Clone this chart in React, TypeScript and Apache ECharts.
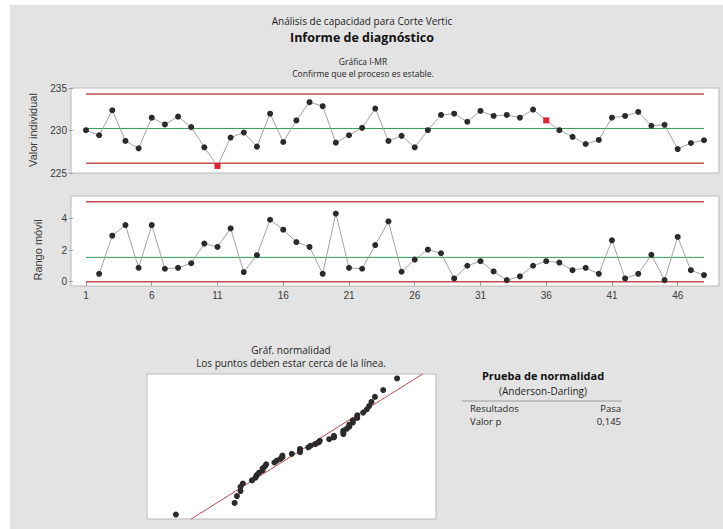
import React, { useEffect, useRef } from "react";
import * as echarts from "echarts";

// ---- data ----
const individual = [
  230.04, 229.44, 232.38, 228.77, 227.9, 231.51, 230.71, 231.63, 230.4, 228.02,
  225.83, 229.17, 229.76, 228.1, 231.98, 228.65, 231.19, 233.33, 232.86, 228.57,
  229.44, 230.32, 232.58, 228.77, 229.37, 228.02, 230.04, 231.83, 231.98, 231.03,
  232.3, 231.71, 231.83, 231.51, 232.46, 231.19, 230.04, 229.25, 228.41, 228.89,
  231.51, 231.71, 232.18, 230.56, 230.67, 227.82, 228.53, 228.85,
];
const movingRange = [
  0.5, 2.91, 3.58, 0.88, 3.58, 0.82, 0.88, 1.17, 2.41, 2.2,
  3.37, 0.61, 1.68, 3.92, 3.29, 2.51, 2.2, 0.5, 4.31, 0.88,
  0.82, 2.32, 3.81, 0.63, 1.4, 2.03, 1.8, 0.21, 1.01, 1.3,
  0.65, 0.1, 0.34, 1.01, 1.3, 1.21, 0.73, 0.88, 0.5, 2.62,
  0.21, 0.5, 1.7, 0.1, 2.83, 0.73, 0.42,
];
const observations = individual.map((_, i) => i + 1);
const flaggedPoints = [11, 36];
const xTickLabels = [1, 6, 11, 16, 21, 26, 31, 36, 41, 46];
const iTickLabels = [225, 230, 235];
const mrTickLabels = [0, 2, 4];
const iUCL = 234.29;
const iCL = 230.24;
const iLCL = 226.15;
const mrUCL = 5.05;
const mrCL = 1.54;
const mrLCL = 0;
const testRows = [
  ["Resultados", "Pasa"],
  ["Valor p", "0,145"],
];

// inverse standard normal (Acklam) for probability-plot positions
function invNorm(p: number): number {
  const a = [-39.69683028665376, 220.9460984245205, -275.9285104469687, 138.357751867269, -30.66479806614716, 2.506628277459239];
  const b = [-54.47609879822406, 161.5858368580409, -155.6989798598866, 66.80131188771972, -13.28068155288572];
  const c = [-0.007784894002430293, -0.3223964580411365, -2.400758276877924, -2.549732699811022, 4.374664141464968, 2.938163982698783];
  const d = [0.007784695709041462, 0.3224671290700398, 2.445134137142996, 3.754408661907416];
  const pl = 0.02425;
  if (p < pl) {
    const q = Math.sqrt(-2 * Math.log(p));
    return (((((c[0] * q + c[1]) * q + c[2]) * q + c[3]) * q + c[4]) * q + c[5]) / ((((d[0] * q + d[1]) * q + d[2]) * q + d[3]) * q + 1);
  }
  if (p <= 1 - pl) {
    const q = p - 0.5;
    const r = q * q;
    return ((((((a[0] * r + a[1]) * r + a[2]) * r + a[3]) * r + a[4]) * r + a[5]) * q) / (((((b[0] * r + b[1]) * r + b[2]) * r + b[3]) * r + b[4]) * r + 1);
  }
  const q = Math.sqrt(-2 * Math.log(1 - p));
  return -(((((c[0] * q + c[1]) * q + c[2]) * q + c[3]) * q + c[4]) * q + c[5]) / ((((d[0] * q + d[1]) * q + d[2]) * q + d[3]) * q + 1);
}

const FONT = "'Open Sans', 'Noto Sans', sans-serif";
const TICKFONT = "'Liberation Sans', Arial, sans-serif";

export default function App() {
  const ref = useRef<HTMLDivElement>(null);
  useEffect(() => {
    if (!ref.current) return;
    const chart = echarts.init(ref.current, undefined, { renderer: "svg" });

    const n = individual.length;
    const sorted = [...individual].sort((x, y) => x - y);
    const probPoints = sorted.map((v, i) => [v, invNorm((i + 1 - 0.3) / (n + 0.4))]);
    const mean = individual.reduce((s, v) => s + v, 0) / n;
    const sd = Math.sqrt(individual.reduce((s, v) => s + (v - mean) * (v - mean), 0) / (n - 1));
    const zMax = 2.326;

    const xMin = -0.141;
    const xMax = 49.141;
    const gridBox = { show: true, backgroundColor: "#fff", borderColor: "#b8b8b8", borderWidth: 1 };
    const hiddenAxis = {
      axisLine: { show: false },
      axisTick: { show: false },
      axisLabel: { show: false },
      splitLine: { show: false },
    };
    const tickStyle = { show: true, length: 4, lineStyle: { color: "#9a9a9a", width: 1 } };
    const labelStyle = { fontSize: 10, color: "#3a3a3a", fontFamily: TICKFONT, margin: 4 };
    const limitLine = (xi: number, x0: number, x1: number, y: number, color: string, w = 1.5) => ({
      type: "line",
      xAxisIndex: xi,
      yAxisIndex: xi,
      data: [[x0, y], [x1, y]],
      symbol: "none",
      silent: true,
      lineStyle: { color, width: w },
      z: 3,
    });

    const txt = (x: number, y: number, text: string, size: number, opts: any = {}) => ({
      type: "text",
      x,
      y,
      z: 10,
      style: {
        text,
        fontSize: size,
        fontFamily: FONT,
        fill: "#1e1e1e",
        align: "center",
        verticalAlign: "middle",
        ...opts,
      },
    });

    chart.setOption({
      animation: false,
      grid: [
        { left: 71, top: 88, width: 648, height: 85, ...gridBox },
        { left: 71, top: 196, width: 648, height: 90, ...gridBox },
        { left: 147, top: 374, width: 289, height: 145, ...gridBox },
      ],
      xAxis: [
        { gridIndex: 0, type: "value", min: xMin, max: xMax, ...hiddenAxis },
        {
          gridIndex: 1,
          type: "value",
          min: xMin,
          max: xMax,
          axisLine: { show: false },
          axisTick: { ...tickStyle, customValues: xTickLabels },
          axisLabel: { ...labelStyle, customValues: xTickLabels },
          splitLine: { show: false },
        },
        { gridIndex: 2, type: "value", min: 224.85, max: 234.65, ...hiddenAxis },
      ],
      yAxis: [
        {
          gridIndex: 0,
          type: "value",
          min: 225,
          max: 235,
          axisLine: { show: false },
          axisTick: { ...tickStyle, customValues: iTickLabels },
          axisLabel: { ...labelStyle, customValues: iTickLabels },
          splitLine: { show: false },
        },
        {
          gridIndex: 1,
          type: "value",
          min: -0.27,
          max: 5.42,
          axisLine: { show: false },
          axisTick: { ...tickStyle, customValues: mrTickLabels },
          axisLabel: { ...labelStyle, customValues: mrTickLabels },
          splitLine: { show: false },
        },
        { gridIndex: 2, type: "value", min: -zMax, max: zMax, ...hiddenAxis },
      ],
      series: [
        limitLine(0, 1, n, iUCL, "#c0504d"),
        limitLine(0, 1, n, iLCL, "#c0504d"),
        limitLine(0, 1, n, iCL, "#2f9a57", 1),
        {
          type: "line",
          xAxisIndex: 0,
          yAxisIndex: 0,
          symbol: "circle",
          symbolSize: 6,
          lineStyle: { color: "#a3a3a3", width: 1 },
          itemStyle: { color: "#2b2b2b" },
          z: 5,
          data: individual.map((v, i) => {
            const flagged = flaggedPoints.includes(observations[i]);
            return flagged
              ? { value: [observations[i], v], symbol: "rect", symbolSize: 6, itemStyle: { color: "#e0202a" } }
              : { value: [observations[i], v] };
          }),
        },
        limitLine(1, 1, n, mrUCL, "#c0504d"),
        limitLine(1, 1, n, mrLCL, "#c0504d"),
        limitLine(1, 1, n, mrCL, "#2f9a57", 1),
        {
          type: "line",
          xAxisIndex: 1,
          yAxisIndex: 1,
          symbol: "circle",
          symbolSize: 6,
          lineStyle: { color: "#a3a3a3", width: 1 },
          itemStyle: { color: "#2b2b2b" },
          z: 5,
          data: movingRange.map((v, i) => [observations[i + 1], v]),
        },
        {
          type: "line",
          xAxisIndex: 2,
          yAxisIndex: 2,
          symbol: "none",
          lineStyle: { color: "#c04848", width: 1 },
          z: 3,
          data: [
            [mean - zMax * sd, -zMax],
            [mean + zMax * sd, zMax],
          ],
        },
        {
          type: "scatter",
          xAxisIndex: 2,
          yAxisIndex: 2,
          symbolSize: 6,
          itemStyle: { color: "#2b2b2b", opacity: 1 },
          z: 5,
          data: probPoints,
        },
      ],
      graphic: [
        { type: "rect", z: -10, shape: { x: 10, y: 5, width: 713, height: 524 }, style: { fill: "#e3e3e3" } },
        txt(362, 21, "Análisis de capacidad para Corte Vertic", 10),
        txt(362, 37, "Informe de diagnóstico", 12.5, { fontWeight: "bold", fill: "#111" }),
        txt(363, 61, "Gráfica I-MR", 8.5),
        txt(363, 73, "Confirme que el proceso es estable.", 8.5),
        { ...txt(33, 130, "Valor individual", 11, { fontFamily: TICKFONT, fill: "#3a3a3a" }), rotation: Math.PI / 2 },
        { ...txt(38, 250, "Rango móvil", 11, { fontFamily: TICKFONT, fill: "#3a3a3a" }), rotation: Math.PI / 2 },
        txt(291, 350, "Gráf. normalidad", 10),
        txt(291, 363, "Los puntos deben estar cerca de la línea.", 10),
        txt(543, 375, "Prueba de normalidad", 11, { fontWeight: "bold", fill: "#111" }),
        txt(543, 391, "(Anderson-Darling)", 10),
        { type: "line", z: 10, shape: { x1: 462, y1: 401, x2: 622, y2: 401 }, style: { stroke: "#9a9a9a", lineWidth: 1 } },
        ...testRows.flatMap((row, i) => [
          txt(470, 408 + i * 13, row[0], 9.5, { align: "left", lineHeight: 10 }),
          txt(621, 408 + i * 13, row[1], 9.5, { align: "right", lineHeight: 10 }),
        ]),
      ],
    });
    return () => chart.dispose();
  }, []);

  return (
    <div
      ref={ref}
      style={{ position: "fixed", left: 0, top: 0, width: 723, height: 529, background: "#fff" }}
    />
  );
}
